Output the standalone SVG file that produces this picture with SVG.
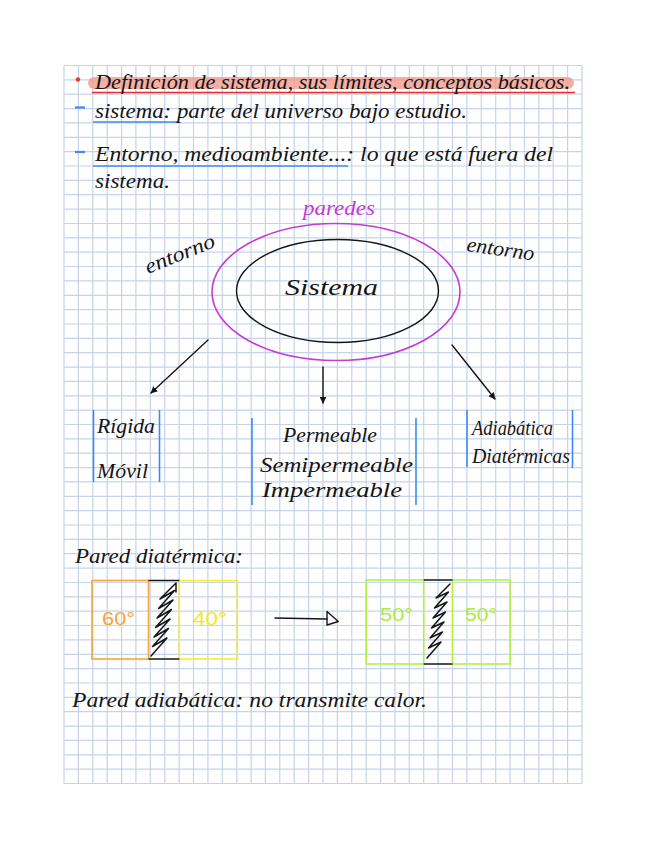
<svg xmlns="http://www.w3.org/2000/svg" width="648" height="848" viewBox="0 0 648 848">
<defs>
<style>
.grid{stroke:#c6d3ea;stroke-width:1.2;fill:none}
.hw{font-family:"Liberation Serif","DejaVu Serif",serif;font-style:italic;fill:#151515;font-size:22px}
.num{font-family:"Liberation Sans","DejaVu Sans",sans-serif;font-size:19px}
.blue{stroke:#3d8af7;stroke-width:1.6;fill:none}
.ink{stroke:#151515;stroke-width:1.4;fill:none;stroke-linejoin:round;stroke-linecap:round}
.scrib{stroke:#151515;stroke-width:1.5;fill:none;stroke-linejoin:round;stroke-linecap:round}
</style>
<marker id="ah" viewBox="0 0 10 10" refX="9" refY="5" markerWidth="7" markerHeight="7" orient="auto" markerUnits="userSpaceOnUse">
<path d="M0,0 L10,5 L0,10 z" fill="#151515"/>
</marker>
</defs>
<rect width="648" height="848" fill="#ffffff"/>
<g id="grid" class="grid">
<path d="M64,65.5V783.5M78.4,65.5V783.5M92.8,65.5V783.5M107.2,65.5V783.5M121.6,65.5V783.5M135.9,65.5V783.5M150.3,65.5V783.5M164.7,65.5V783.5M179.1,65.5V783.5M193.5,65.5V783.5M207.9,65.5V783.5M222.3,65.5V783.5M236.7,65.5V783.5M251.1,65.5V783.5M265.4,65.5V783.5M279.8,65.5V783.5M294.2,65.5V783.5M308.6,65.5V783.5M323,65.5V783.5M337.4,65.5V783.5M351.8,65.5V783.5M366.2,65.5V783.5M380.6,65.5V783.5M395,65.5V783.5M409.3,65.5V783.5M423.7,65.5V783.5M438.1,65.5V783.5M452.5,65.5V783.5M466.9,65.5V783.5M481.3,65.5V783.5M495.7,65.5V783.5M510.1,65.5V783.5M524.5,65.5V783.5M538.9,65.5V783.5M553.2,65.5V783.5M567.6,65.5V783.5M582,65.5V783.5"/>
<path d="M64,65.5H582M64,79.9H582M64,94.2H582M64,108.6H582M64,122.9H582M64,137.3H582M64,151.7H582M64,166H582M64,180.4H582M64,194.7H582M64,209.1H582M64,223.5H582M64,237.8H582M64,252.2H582M64,266.5H582M64,280.9H582M64,295.3H582M64,309.6H582M64,324H582M64,338.3H582M64,352.7H582M64,367.1H582M64,381.4H582M64,395.8H582M64,410.1H582M64,424.5H582M64,438.9H582M64,453.2H582M64,467.6H582M64,481.9H582M64,496.3H582M64,510.7H582M64,525H582M64,539.4H582M64,553.7H582M64,568.1H582M64,582.5H582M64,596.8H582M64,611.2H582M64,625.5H582M64,639.9H582M64,654.3H582M64,668.6H582M64,683H582M64,697.3H582M64,711.7H582M64,726.1H582M64,740.4H582M64,754.8H582M64,769.1H582M64,783.5H582"/>
</g>
<g id="title">
<rect x="88" y="77" width="486" height="12" rx="6" fill="#f29b8c" opacity="0.8"/>
<circle cx="78" cy="79.5" r="2.2" fill="#e23a2e"/>
<line x1="92" y1="92.5" x2="575" y2="92.5" stroke="#e0302a" stroke-width="1.5"/>
<text class="hw" x="95" y="89" textLength="475" lengthAdjust="spacingAndGlyphs">Definición de sistema, sus límites, conceptos básicos.</text>
</g>
<g id="def-sistema">
<line x1="75" y1="107.5" x2="85" y2="107.5" stroke="#3d8af7" stroke-width="2.2"/>
<line class="blue" x1="93" y1="122" x2="178" y2="122"/>
<text class="hw" x="95" y="118" textLength="372" lengthAdjust="spacingAndGlyphs">sistema: parte del universo bajo estudio.</text>
</g>
<g id="def-entorno">
<line x1="75" y1="152" x2="85" y2="152" stroke="#3d8af7" stroke-width="2.2"/>
<line class="blue" x1="93" y1="166" x2="348" y2="166"/>
<text class="hw" x="95" y="161" textLength="458" lengthAdjust="spacingAndGlyphs">Entorno, medioambiente...: lo que está fuera del</text>
<text class="hw" x="95" y="188" textLength="75" lengthAdjust="spacingAndGlyphs">sistema.</text>
</g>
<g id="paredes">
<ellipse cx="336" cy="292" rx="124" ry="68.5" fill="none" stroke="#c33bd2" stroke-width="1.6"/>
<text class="hw" x="303" y="215" textLength="72" lengthAdjust="spacingAndGlyphs" style="fill:#c33bd2;font-size:20px">paredes</text>
</g>
<g id="sistema">
<ellipse cx="337.5" cy="291" rx="101" ry="51.5" fill="none" stroke="#151515" stroke-width="1.4"/>
<text class="hw" x="285" y="295" textLength="93" lengthAdjust="spacingAndGlyphs" style="font-size:24px">Sistema</text>
</g>
<g id="entorno-izq">
<text class="hw" x="148" y="274" transform="rotate(-22 148 274)" textLength="74" lengthAdjust="spacingAndGlyphs" style="font-size:21px">entorno</text>
</g>
<g id="entorno-der">
<text class="hw" x="466" y="251" transform="rotate(8 466 251)" textLength="68" lengthAdjust="spacingAndGlyphs" style="font-size:21px">entorno</text>
</g>
<g id="connectors">
<line class="ink" x1="208" y1="340" x2="151" y2="393" marker-end="url(#ah)"/>
<line class="ink" x1="323" y1="367" x2="323" y2="403" marker-end="url(#ah)"/>
<line class="ink" x1="452" y1="345" x2="495" y2="399" marker-end="url(#ah)"/>
<path class="ink" d="M275,618 L327,619"/>
<path class="ink" d="M327,611.5 L338.3,621.5 L327,625 z"/>
</g>
<g id="mecanicas">
<line class="blue" x1="93.5" y1="410" x2="93.5" y2="482"/>
<line class="blue" x1="159.5" y1="410" x2="159.5" y2="482"/>
<text class="hw" x="97" y="433" textLength="58" lengthAdjust="spacingAndGlyphs">Rígida</text>
<text class="hw" x="97" y="478" textLength="51" lengthAdjust="spacingAndGlyphs">Móvil</text>
</g>
<g id="materia">
<line class="blue" x1="252" y1="418" x2="252" y2="505"/>
<line class="blue" x1="416" y1="418" x2="416" y2="505"/>
<text class="hw" x="283" y="442" textLength="94" lengthAdjust="spacingAndGlyphs">Permeable</text>
<text class="hw" x="260" y="472" textLength="153" lengthAdjust="spacingAndGlyphs">Semipermeable</text>
<text class="hw" x="262" y="497" textLength="140" lengthAdjust="spacingAndGlyphs">Impermeable</text>
</g>
<g id="termicas">
<line class="blue" x1="467" y1="410" x2="467" y2="467"/>
<line class="blue" x1="572.5" y1="410" x2="572.5" y2="468"/>
<text class="hw" x="472" y="435" textLength="81" lengthAdjust="spacingAndGlyphs">Adiabática</text>
<text class="hw" x="472" y="463" textLength="98" lengthAdjust="spacingAndGlyphs">Diatérmicas</text>
</g>
<g id="pared-diatermica">
<text class="hw" x="75" y="563" textLength="168" lengthAdjust="spacingAndGlyphs">Pared diatérmica:</text>
</g>
<g id="antes">
<rect x="92" y="580.5" width="56.5" height="78.5" fill="none" stroke="#f5a537" stroke-width="1.6"/>
<rect x="179.3" y="580.5" width="58" height="78.5" fill="none" stroke="#f6ee2a" stroke-width="1.6"/>
<line x1="148.5" y1="580.5" x2="179.3" y2="580.5" stroke="#151515" stroke-width="1.5"/>
<line x1="148.5" y1="659" x2="179.3" y2="659" stroke="#151515" stroke-width="1.5"/>
<polyline class="scrib" points="151,656 167,638 152.5,646.5 168.5,628.5 154,637 170,619 155.5,627.5 171.5,609.5 157,618 173,600 158.5,608.5 174.5,590.5 160,599 176,583 176,592"/>
<text class="num" x="102" y="625" textLength="33" lengthAdjust="spacingAndGlyphs" fill="#f5a537">60°</text>
<text class="num" x="193" y="625" textLength="34" lengthAdjust="spacingAndGlyphs" fill="#f2e81c">40°</text>
</g>
<g id="despues">
<rect x="366.2" y="580" width="57.5" height="84" fill="none" stroke="#b3ef45" stroke-width="1.6"/>
<rect x="452.5" y="580" width="57.6" height="84" fill="none" stroke="#b3ef45" stroke-width="1.6"/>
<line x1="423.7" y1="580" x2="452.5" y2="580" stroke="#151515" stroke-width="1.5"/>
<line x1="423.7" y1="664" x2="452.5" y2="664" stroke="#151515" stroke-width="1.5"/>
<polyline class="scrib" points="427,658 441,642 428.5,648 442.5,632 430,638 444,622 431.5,628 445.5,612 433,618 447,602 434.5,608 448.5,592 436,598 450,584"/>
<text class="num" x="380" y="621" textLength="33" lengthAdjust="spacingAndGlyphs" fill="#aeea3c">50°</text>
<text class="num" x="465" y="621" textLength="32" lengthAdjust="spacingAndGlyphs" fill="#aeea3c">50°</text>
</g>
<g id="pared-adiabatica">
<text class="hw" x="72" y="707" textLength="355" lengthAdjust="spacingAndGlyphs">Pared adiabática: no transmite calor.</text>
</g>
</svg>
